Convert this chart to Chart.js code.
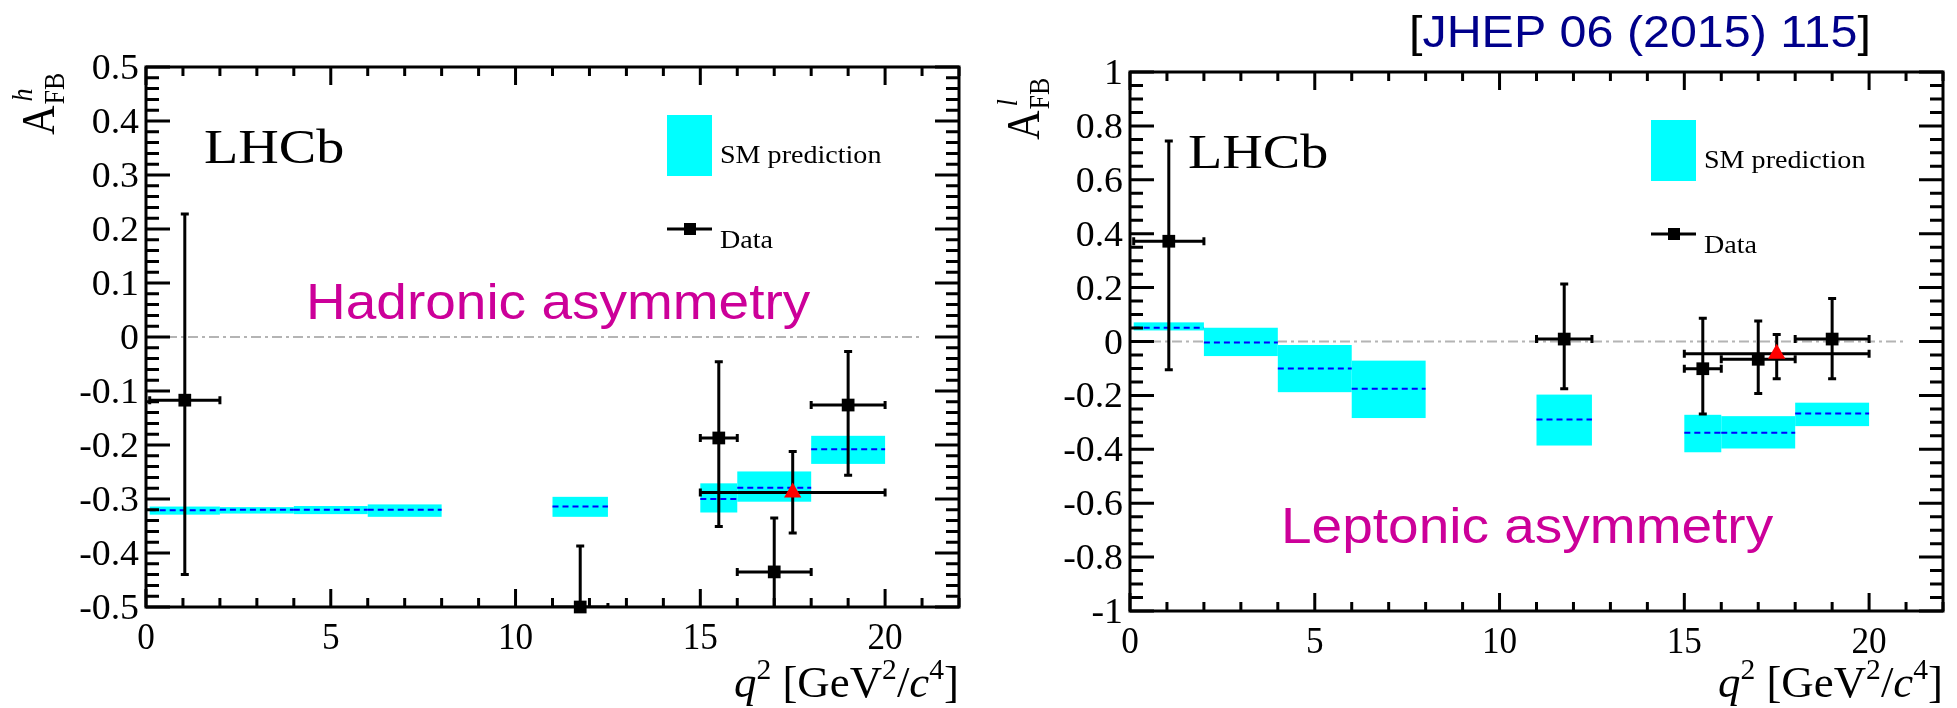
<!DOCTYPE html>
<html>
<head>
<meta charset="utf-8">
<script src="https://cdn.jsdelivr.net/npm/chart.js@4.4.0/dist/chart.umd.min.js"></script>
<style>
  html, body { margin: 0; padding: 0; background: #fff; }
  #wrap { position: relative; width: 1957px; height: 708px; overflow: hidden; }
  .panel { position: absolute; top: 0; height: 708px; }
</style>
</head>
<body>
<div id="wrap">
  <div class="panel" style="left:0;width:980px"><canvas id="hadronic" width="980" height="708"></canvas></div>
  <div class="panel" style="left:980px;width:977px"><canvas id="leptonic" width="977" height="708"></canvas></div>
</div>
<script>
// q2 bins of the SM prediction
var smLow  = [0.1, 2, 4, 6, 11, 15, 16, 18];
var smHigh = [2, 4, 6, 8, 12.5, 16, 18, 20];

// SM prediction, hadronic asymmetry (central value, band edges)
var smHadCentre = [-0.321, -0.320, -0.320, -0.320, -0.314, -0.300, -0.279, -0.208];
var smHadLo     = [-0.329, -0.327, -0.328, -0.333, -0.333, -0.325, -0.305, -0.235];
var smHadHi     = [-0.314, -0.315, -0.313, -0.310, -0.296, -0.271, -0.249, -0.183];

// SM prediction, leptonic asymmetry
var smLepCentre = [0.051, -0.004, -0.100, -0.175, -0.289, -0.339, -0.339, -0.267];
var smLepLo     = [0.041, -0.054, -0.188, -0.284, -0.386, -0.411, -0.397, -0.314];
var smLepHi     = [0.071, 0.051, -0.013, -0.071, -0.197, -0.272, -0.277, -0.227];

// measured bins
var dataLow  = [0.1, 11, 15, 16, 18];
var dataHigh = [2, 12.5, 16, 18, 20];
var dataX    = [1.05, 11.75, 15.5, 17.0, 19.0];

var hadY     = [-0.117, -0.500, -0.187, -0.435, -0.126];
var hadErrHi = [0.228, -0.387, -0.046, -0.335, -0.027];
var hadErrLo = [-0.440, -0.620, -0.351, -0.530, -0.256];

var lepY     = [0.372, 0.009, -0.101, -0.066, 0.009];
var lepErrHi = [0.744, 0.213, 0.086, 0.076, 0.160];
var lepErrLo = [-0.105, -0.175, -0.269, -0.193, -0.138];

// wide 15-20 bin
var wideLow = 15, wideHigh = 20, wideX = 17.5;
var hadWide = [-0.288, -0.363, -0.212];   // value, low, high
var lepWide = [-0.045, -0.138, 0.026];

var SERIF = '"Liberation Serif"';
var SANS = '"Liberation Sans"';

function txt(ctx, s, x, y, font, color, align, sx) {
  ctx.save();
  ctx.translate(x, y);
  ctx.scale(sx || 1, 1);
  ctx.font = font;
  ctx.fillStyle = color || '#000';
  ctx.textAlign = align || 'left';
  ctx.textBaseline = 'alphabetic';
  ctx.fillText(s, 0, 0);
  ctx.restore();
}

// runs of [text, font, dy, colour]; returns width
function runs(ctx, parts, x, y, sx, draw) {
  var w = 0;
  parts.forEach(function (p) {
    ctx.font = p[1];
    var pw = ctx.measureText(p[0]).width * sx;
    if (draw) txt(ctx, p[0], x + w, y + p[2], p[1], p[3] || '#000', 'left', sx);
    w += pw;
  });
  return w;
}

function fmt(v) { return String(Number(v.toFixed(2))); }

function decorPlugin(o) {
  return {
    id: 'decor',
    beforeDatasetsDraw: function (chart) {
      var ctx = chart.ctx, a = chart.chartArea;
      var xs = chart.scales.x, ys = chart.scales.y;
      ctx.save();
      ctx.beginPath();
      ctx.rect(a.left, a.top, a.right - a.left, a.bottom - a.top);
      ctx.clip();

      // zero line
      var y0 = ys.getPixelForValue(0);
      ctx.strokeStyle = '#b4b4b4';
      ctx.lineWidth = 2;
      ctx.setLineDash([10, 4, 3, 4]);
      ctx.beginPath();
      ctx.moveTo(xs.getPixelForValue(0), y0);
      ctx.lineTo(xs.getPixelForValue(21), y0);
      ctx.stroke();
      ctx.strokeStyle = '#000';
      ctx.setLineDash([3, 2]);
      ctx.beginPath();
      ctx.moveTo(xs.getPixelForValue(0), y0);
      ctx.lineTo(xs.getPixelForValue(0.4), y0);
      ctx.stroke();

      // SM bands
      for (var i = 0; i < smLow.length; i++) {
        var x1 = xs.getPixelForValue(smLow[i]), x2 = xs.getPixelForValue(smHigh[i]);
        var yt = ys.getPixelForValue(o.smHi[i]), yb = ys.getPixelForValue(o.smLo[i]);
        ctx.fillStyle = '#00ffff';
        ctx.fillRect(x1, yt, x2 - x1, yb - yt);
      }
      ctx.strokeStyle = '#0000ff';
      ctx.lineWidth = 2;
      ctx.setLineDash([6, 4]);
      for (i = 0; i < smLow.length; i++) {
        var yc = ys.getPixelForValue(o.smCentre[i]);
        ctx.beginPath();
        ctx.moveTo(xs.getPixelForValue(smLow[i]), yc);
        ctx.lineTo(xs.getPixelForValue(smHigh[i]), yc);
        ctx.stroke();
      }
      ctx.setLineDash([]);

      // error bars
      function bar(xc, lo, hi, y, eLo, eHi) {
        var px = xs.getPixelForValue(xc), py = ys.getPixelForValue(y);
        var pl = xs.getPixelForValue(lo), ph = xs.getPixelForValue(hi);
        var el = ys.getPixelForValue(eLo), eh = ys.getPixelForValue(eHi);
        var c = 4;
        ctx.beginPath();
        ctx.moveTo(pl, py); ctx.lineTo(ph, py);
        ctx.moveTo(pl, py - c); ctx.lineTo(pl, py + c);
        ctx.moveTo(ph, py - c); ctx.lineTo(ph, py + c);
        ctx.moveTo(px, el); ctx.lineTo(px, eh);
        ctx.moveTo(px - c, el); ctx.lineTo(px + c, el);
        ctx.moveTo(px - c, eh); ctx.lineTo(px + c, eh);
        ctx.stroke();
      }
      ctx.strokeStyle = '#000';
      ctx.lineWidth = 3;
      for (i = 0; i < dataX.length; i++) {
        bar(dataX[i], dataLow[i], dataHigh[i], o.y[i], o.errLo[i], o.errHi[i]);
      }
      bar(wideX, wideLow, wideHigh, o.wide[0], o.wide[1], o.wide[2]);
      ctx.restore();
    },
    afterDraw: function (chart) {
      var ctx = chart.ctx, a = chart.chartArea;
      var xs = chart.scales.x, ys = chart.scales.y;
      ctx.save();
      ctx.strokeStyle = '#000';
      ctx.lineWidth = 3;
      ctx.strokeRect(a.left, a.top, a.right - a.left, a.bottom - a.top);

      // x ticks, top and bottom
      ctx.beginPath();
      for (var v = 0; v <= 22; v++) {
        var px = xs.getPixelForValue(v);
        var len = (v % 5 === 0) ? 18 : 9;
        ctx.moveTo(px, a.bottom); ctx.lineTo(px, a.bottom - len);
        ctx.moveTo(px, a.top); ctx.lineTo(px, a.top + len);
      }
      // y ticks, left and right
      var n = Math.round((o.yMax - o.yMin) / o.yMinor);
      var per = Math.round(o.yMajor / o.yMinor);
      for (var k = 0; k <= n; k++) {
        var py = ys.getPixelForValue(o.yMin + k * o.yMinor);
        var l2 = (k % per === 0) ? 24 : 13;
        ctx.moveTo(a.left, py); ctx.lineTo(a.left + l2, py);
        ctx.moveTo(a.right, py); ctx.lineTo(a.right - l2, py);
      }
      ctx.stroke();

      // tick labels from the scales
      ys.ticks.forEach(function (t) {
        txt(ctx, fmt(t.value), a.left - 7, ys.getPixelForValue(t.value) + 12, '35px ' + SERIF, '#000', 'right', 1.08);
      });
      xs.ticks.forEach(function (t) {
        if (Math.abs(t.value / 5 - Math.round(t.value / 5)) > 1e-6) return;
        txt(ctx, fmt(t.value), xs.getPixelForValue(t.value), a.bottom + 42, '37px ' + SERIF, '#000', 'center', 0.95);
      });

      // x title, right aligned to the frame
      var xt = [
        ['q', 'italic 44px ' + SERIF, 0],
        ['2', '29px ' + SERIF, -18],
        [' [GeV', '44px ' + SERIF, 0],
        ['2', '29px ' + SERIF, -18],
        ['/', '44px ' + SERIF, 0],
        ['c', 'italic 44px ' + SERIF, 0],
        ['4', '29px ' + SERIF, -18],
        [']', '44px ' + SERIF, 0]
      ];
      var w = runs(ctx, xt, 0, 0, 1.02, false);
      runs(ctx, xt, a.right - w, 697, 1.02, true);

      // y title, rotated
      ctx.save();
      ctx.translate(o.yTitleX, o.yTitleY);
      ctx.scale(1.15, 1);
      ctx.rotate(-Math.PI / 2);
      ctx.font = '41px ' + SERIF;
      ctx.fillStyle = '#000';
      ctx.fillText('A', 0, 0);
      var aw = ctx.measureText('A').width;
      ctx.font = '26px ' + SERIF;
      ctx.fillText('FB', aw + 1, 9);
      ctx.font = 'italic 26px ' + SERIF;
      ctx.fillText(o.sup, aw + 4, -19);
      ctx.restore();

      // LHCb and legend
      txt(ctx, 'LHCb', a.left + 58, a.top + 96, '48px ' + SERIF, '#000', 'left', 1.17);
      ctx.fillStyle = '#00ffff';
      ctx.fillRect(a.left + 521, a.top + 48, 45, 61);
      txt(ctx, 'SM prediction', a.left + 574, a.top + 96, '26px ' + SERIF, '#000', 'left', 1.08);
      var ly = a.top + 162;
      ctx.lineWidth = 3;
      ctx.beginPath();
      ctx.moveTo(a.left + 521, ly); ctx.lineTo(a.left + 566, ly);
      ctx.stroke();
      ctx.fillStyle = '#000';
      ctx.fillRect(a.left + 538, ly - 6, 12, 12);
      txt(ctx, 'Data', a.left + 574, a.top + 181, '26px ' + SERIF, '#000', 'left', 1.08);

      txt(ctx, o.name, o.nameX, o.nameY, '50px ' + SANS, '#cc0099', 'left', 1.1);

      if (o.ref) {
        var parts = [['[', '44px ' + SANS, 0, '#000'], [o.ref, '44px ' + SANS, 0, '#00008b'], [']', '44px ' + SANS, 0, '#000']];
        runs(ctx, parts, o.refX, o.refY, 1.1, true);
      }
      ctx.restore();
    }
  };
}

function makePanel(id, o) {
  return new Chart(document.getElementById(id), {
    type: 'scatter',
    data: {
      datasets: [{
        label: 'Data',
        data: dataX.map(function (x, i) { return { x: x, y: o.y[i] }; }),
        pointStyle: 'rect',
        pointRadius: 9,
        backgroundColor: '#000',
        borderWidth: 0,
        clip: false
      }, {
        label: '15-20',
        data: [{ x: wideX, y: o.wide[0] }],
        pointStyle: 'triangle',
        pointRadius: 10,
        backgroundColor: '#ff0000',
        borderWidth: 0,
        clip: false
      }]
    },
    options: {
      responsive: false,
      animation: false,
      devicePixelRatio: 1,
      events: [],
      layout: { padding: o.pad },
      plugins: { legend: { display: false }, tooltip: { enabled: false }, title: { display: false } },
      scales: {
        x: {
          type: 'linear', min: 0, max: 22,
          ticks: { stepSize: 5, display: false },
          grid: { display: false }, border: { display: false },
          afterFit: function (s) { s.height = o.xHeight; }
        },
        y: {
          type: 'linear', min: o.yMin, max: o.yMax,
          ticks: { stepSize: o.yMajor, display: false },
          grid: { display: false }, border: { display: false },
          afterFit: function (s) { s.width = o.yWidth; }
        }
      }
    },
    plugins: [decorPlugin(o)]
  });
}

function build() {
  makePanel('hadronic', {
    y: hadY, errLo: hadErrLo, errHi: hadErrHi, wide: hadWide,
    smCentre: smHadCentre, smLo: smHadLo, smHi: smHadHi,
    yMin: -0.5, yMax: 0.5, yMajor: 0.1, yMinor: 0.02,
    pad: { top: 67, right: 21, left: 0, bottom: 0 }, yWidth: 146, xHeight: 101,
    yTitleX: 54, yTitleY: 135, sup: 'h',
    name: 'Hadronic asymmetry', nameX: 306, nameY: 319
  });
  makePanel('leptonic', {
    y: lepY, errLo: lepErrLo, errHi: lepErrHi, wide: lepWide,
    smCentre: smLepCentre, smLo: smLepLo, smHi: smLepHi,
    yMin: -1, yMax: 1, yMajor: 0.2, yMinor: 0.05,
    pad: { top: 72, right: 14, left: 0, bottom: 0 }, yWidth: 150, xHeight: 97,
    yTitleX: 59, yTitleY: 140, sup: 'l',
    name: 'Leptonic asymmetry', nameX: 301, nameY: 543,
    ref: 'JHEP 06 (2015) 115', refX: 429, refY: 47
  });
}

// make sure the system fonts are resolved before the canvases are painted
Promise.all([
  document.fonts.load('34px "Liberation Serif"'),
  document.fonts.load('italic 34px "Liberation Serif"'),
  document.fonts.load('34px "Liberation Sans"')
]).then(build, build);
</script>
</body>
</html>
